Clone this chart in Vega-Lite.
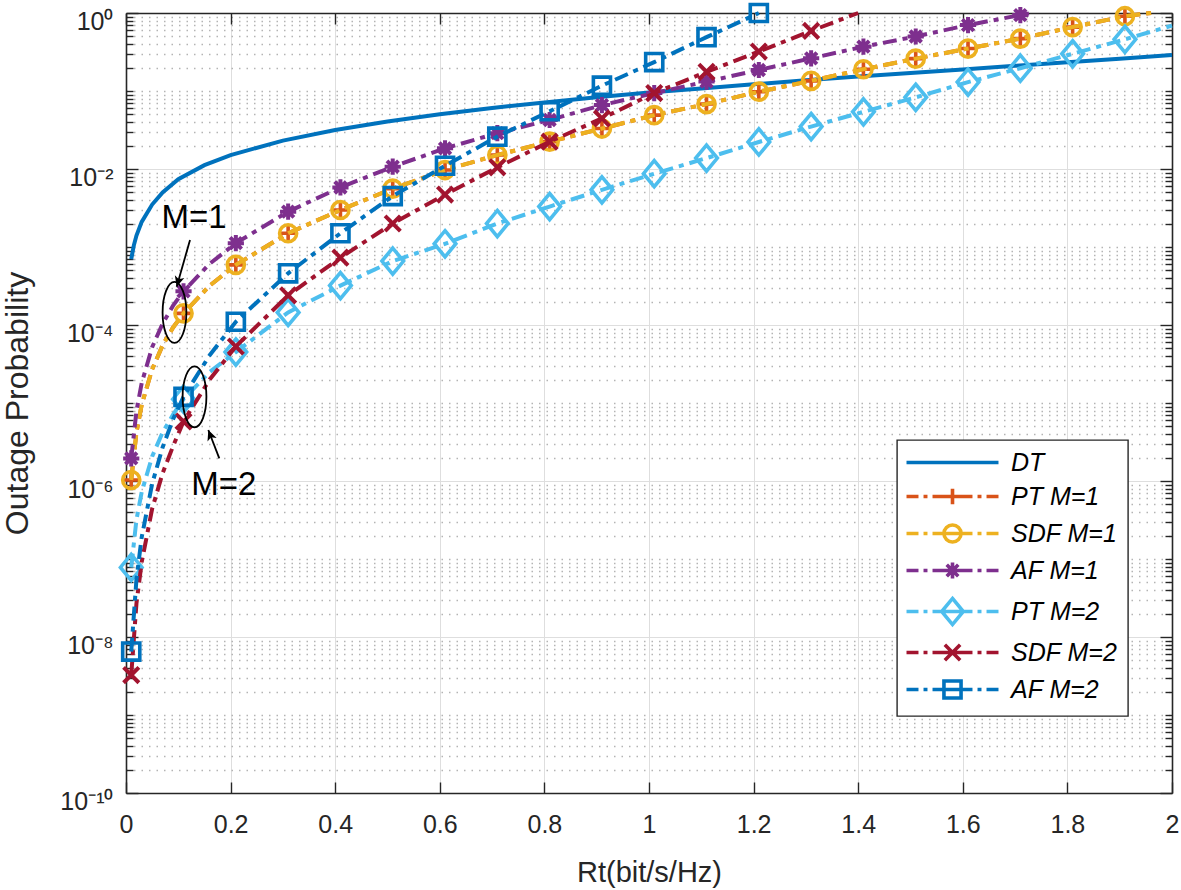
{
  "$schema": "https://vega.github.io/schema/vega-lite/v6.json",
  "width": 1046,
  "height": 780,
  "autosize": {"type": "none"},
  "padding": {"left": 126, "top": 13, "right": 9, "bottom": 97},
  "background": "white",
  "config": {
    "view": {"stroke": null},
    "font": "Liberation Sans",
    "axis": {"labelFont": "Liberation Sans", "titleFont": "Liberation Sans", "labelColor": "#262626", "titleColor": "#262626", "tickColor": "#262626", "domainColor": "#262626", "domainWidth": 1.6, "tickWidth": 1.4, "titleFontWeight": "normal"},
    "legend": {"strokeWidth": 1.4}
  },
  "datasets": {
    "curves": [
      {"series": "DT", "rt": 0.01, "p": 7.0e-4}, {"series": "DT", "rt": 0.015, "p": 1.05e-3}, {"series": "DT", "rt": 0.02, "p": 1.4e-3}, {"series": "DT", "rt": 0.03, "p": 2.1e-3}, {"series": "DT", "rt": 0.05, "p": 3.5e-3}, {"series": "DT", "rt": 0.07, "p": 5.0e-3}, {"series": "DT", "rt": 0.1, "p": 7.4e-3}, {"series": "DT", "rt": 0.15, "p": 0.0112}, {"series": "DT", "rt": 0.2, "p": 0.0151}, {"series": "DT", "rt": 0.3, "p": 0.0231}, {"series": "DT", "rt": 0.4, "p": 0.0316}, {"series": "DT", "rt": 0.5, "p": 0.0406}, {"series": "DT", "rt": 0.6, "p": 0.0503}, {"series": "DT", "rt": 0.7, "p": 0.0605}, {"series": "DT", "rt": 0.8, "p": 0.0714}, {"series": "DT", "rt": 0.9, "p": 0.083}, {"series": "DT", "rt": 1.0, "p": 0.0955}, {"series": "DT", "rt": 1.1, "p": 0.108}, {"series": "DT", "rt": 1.2, "p": 0.122}, {"series": "DT", "rt": 1.3, "p": 0.137}, {"series": "DT", "rt": 1.4, "p": 0.153}, {"series": "DT", "rt": 1.5, "p": 0.17}, {"series": "DT", "rt": 1.6, "p": 0.189}, {"series": "DT", "rt": 1.7, "p": 0.21}, {"series": "DT", "rt": 1.8, "p": 0.233}, {"series": "DT", "rt": 1.9, "p": 0.26}, {"series": "DT", "rt": 2.0, "p": 0.29},

      {"series": "PT M=1", "rt": 0.01, "p": 1.03e-6}, {"series": "PT M=1", "rt": 0.02, "p": 4.2e-6}, {"series": "PT M=1", "rt": 0.03, "p": 9.5e-6}, {"series": "PT M=1", "rt": 0.05, "p": 2.7e-5}, {"series": "PT M=1", "rt": 0.07, "p": 5.5e-5}, {"series": "PT M=1", "rt": 0.09, "p": 9.3e-5}, {"series": "PT M=1", "rt": 0.11, "p": 1.41e-4}, {"series": "PT M=1", "rt": 0.16, "p": 3.2e-4}, {"series": "PT M=1", "rt": 0.21, "p": 5.9e-4}, {"series": "PT M=1", "rt": 0.31, "p": 1.5e-3}, {"series": "PT M=1", "rt": 0.41, "p": 2.98e-3}, {"series": "PT M=1", "rt": 0.51, "p": 5.6e-3}, {"series": "PT M=1", "rt": 0.61, "p": 9.7e-3}, {"series": "PT M=1", "rt": 0.71, "p": 0.0151}, {"series": "PT M=1", "rt": 0.81, "p": 0.0224}, {"series": "PT M=1", "rt": 0.91, "p": 0.033}, {"series": "PT M=1", "rt": 1.01, "p": 0.049}, {"series": "PT M=1", "rt": 1.11, "p": 0.068}, {"series": "PT M=1", "rt": 1.21, "p": 0.098}, {"series": "PT M=1", "rt": 1.31, "p": 0.135}, {"series": "PT M=1", "rt": 1.41, "p": 0.19}, {"series": "PT M=1", "rt": 1.51, "p": 0.26}, {"series": "PT M=1", "rt": 1.61, "p": 0.35}, {"series": "PT M=1", "rt": 1.71, "p": 0.47}, {"series": "PT M=1", "rt": 1.81, "p": 0.66}, {"series": "PT M=1", "rt": 1.91, "p": 0.91}, {"series": "PT M=1", "rt": 1.96, "p": 1.0},

      {"series": "SDF M=1", "rt": 0.01, "p": 1.03e-6}, {"series": "SDF M=1", "rt": 0.02, "p": 4.2e-6}, {"series": "SDF M=1", "rt": 0.03, "p": 9.5e-6}, {"series": "SDF M=1", "rt": 0.05, "p": 2.7e-5}, {"series": "SDF M=1", "rt": 0.07, "p": 5.5e-5}, {"series": "SDF M=1", "rt": 0.09, "p": 9.3e-5}, {"series": "SDF M=1", "rt": 0.11, "p": 1.41e-4}, {"series": "SDF M=1", "rt": 0.16, "p": 3.2e-4}, {"series": "SDF M=1", "rt": 0.21, "p": 5.9e-4}, {"series": "SDF M=1", "rt": 0.31, "p": 1.5e-3}, {"series": "SDF M=1", "rt": 0.41, "p": 2.98e-3}, {"series": "SDF M=1", "rt": 0.51, "p": 5.6e-3}, {"series": "SDF M=1", "rt": 0.61, "p": 9.7e-3}, {"series": "SDF M=1", "rt": 0.71, "p": 0.0151}, {"series": "SDF M=1", "rt": 0.81, "p": 0.0224}, {"series": "SDF M=1", "rt": 0.91, "p": 0.033}, {"series": "SDF M=1", "rt": 1.01, "p": 0.049}, {"series": "SDF M=1", "rt": 1.11, "p": 0.068}, {"series": "SDF M=1", "rt": 1.21, "p": 0.098}, {"series": "SDF M=1", "rt": 1.31, "p": 0.135}, {"series": "SDF M=1", "rt": 1.41, "p": 0.19}, {"series": "SDF M=1", "rt": 1.51, "p": 0.26}, {"series": "SDF M=1", "rt": 1.61, "p": 0.35}, {"series": "SDF M=1", "rt": 1.71, "p": 0.47}, {"series": "SDF M=1", "rt": 1.81, "p": 0.66}, {"series": "SDF M=1", "rt": 1.91, "p": 0.91}, {"series": "SDF M=1", "rt": 1.96, "p": 1.0},

      {"series": "AF M=1", "rt": 0.01, "p": 1.95e-6}, {"series": "AF M=1", "rt": 0.02, "p": 7.9e-6}, {"series": "AF M=1", "rt": 0.03, "p": 1.8e-5}, {"series": "AF M=1", "rt": 0.05, "p": 5.2e-5}, {"series": "AF M=1", "rt": 0.07, "p": 1.04e-4}, {"series": "AF M=1", "rt": 0.09, "p": 1.77e-4}, {"series": "AF M=1", "rt": 0.11, "p": 2.7e-4}, {"series": "AF M=1", "rt": 0.16, "p": 6.1e-4}, {"series": "AF M=1", "rt": 0.21, "p": 1.12e-3}, {"series": "AF M=1", "rt": 0.31, "p": 2.84e-3}, {"series": "AF M=1", "rt": 0.41, "p": 5.8e-3}, {"series": "AF M=1", "rt": 0.51, "p": 0.0107}, {"series": "AF M=1", "rt": 0.61, "p": 0.0184}, {"series": "AF M=1", "rt": 0.71, "p": 0.0288}, {"series": "AF M=1", "rt": 0.81, "p": 0.0425}, {"series": "AF M=1", "rt": 0.91, "p": 0.066}, {"series": "AF M=1", "rt": 1.01, "p": 0.094}, {"series": "AF M=1", "rt": 1.11, "p": 0.132}, {"series": "AF M=1", "rt": 1.21, "p": 0.186}, {"series": "AF M=1", "rt": 1.31, "p": 0.262}, {"series": "AF M=1", "rt": 1.41, "p": 0.37}, {"series": "AF M=1", "rt": 1.51, "p": 0.5}, {"series": "AF M=1", "rt": 1.61, "p": 0.7}, {"series": "AF M=1", "rt": 1.71, "p": 0.94}, {"series": "AF M=1", "rt": 1.73, "p": 1.0},

      {"series": "PT M=2", "rt": 0.01, "p": 7.8e-8}, {"series": "PT M=2", "rt": 0.02, "p": 3.2e-7}, {"series": "PT M=2", "rt": 0.03, "p": 7.2e-7}, {"series": "PT M=2", "rt": 0.05, "p": 2.06e-6}, {"series": "PT M=2", "rt": 0.07, "p": 4.2e-6}, {"series": "PT M=2", "rt": 0.09, "p": 7.1e-6}, {"series": "PT M=2", "rt": 0.11, "p": 1.12e-5}, {"series": "PT M=2", "rt": 0.16, "p": 2.5e-5}, {"series": "PT M=2", "rt": 0.21, "p": 4.5e-5}, {"series": "PT M=2", "rt": 0.31, "p": 1.45e-4}, {"series": "PT M=2", "rt": 0.41, "p": 3.2e-4}, {"series": "PT M=2", "rt": 0.51, "p": 6.6e-4}, {"series": "PT M=2", "rt": 0.61, "p": 1.1e-3}, {"series": "PT M=2", "rt": 0.71, "p": 2.0e-3}, {"series": "PT M=2", "rt": 0.81, "p": 3.3e-3}, {"series": "PT M=2", "rt": 0.91, "p": 5.4e-3}, {"series": "PT M=2", "rt": 1.01, "p": 8.7e-3}, {"series": "PT M=2", "rt": 1.11, "p": 0.0138}, {"series": "PT M=2", "rt": 1.21, "p": 0.0222}, {"series": "PT M=2", "rt": 1.31, "p": 0.035}, {"series": "PT M=2", "rt": 1.41, "p": 0.054}, {"series": "PT M=2", "rt": 1.51, "p": 0.083}, {"series": "PT M=2", "rt": 1.61, "p": 0.13}, {"series": "PT M=2", "rt": 1.71, "p": 0.196}, {"series": "PT M=2", "rt": 1.81, "p": 0.3}, {"series": "PT M=2", "rt": 1.91, "p": 0.46}, {"series": "PT M=2", "rt": 2.0, "p": 0.69},

      {"series": "SDF M=2", "rt": 0.01, "p": 3.25e-9}, {"series": "SDF M=2", "rt": 0.02, "p": 2.7e-8}, {"series": "SDF M=2", "rt": 0.03, "p": 9.1e-8}, {"series": "SDF M=2", "rt": 0.05, "p": 4.4e-7}, {"series": "SDF M=2", "rt": 0.07, "p": 1.26e-6}, {"series": "SDF M=2", "rt": 0.09, "p": 2.8e-6}, {"series": "SDF M=2", "rt": 0.11, "p": 5.8e-6}, {"series": "SDF M=2", "rt": 0.16, "p": 2.0e-5}, {"series": "SDF M=2", "rt": 0.21, "p": 5.3e-5}, {"series": "SDF M=2", "rt": 0.31, "p": 2.4e-4}, {"series": "SDF M=2", "rt": 0.41, "p": 7.3e-4}, {"series": "SDF M=2", "rt": 0.51, "p": 2.0e-3}, {"series": "SDF M=2", "rt": 0.61, "p": 4.7e-3}, {"series": "SDF M=2", "rt": 0.71, "p": 0.0105}, {"series": "SDF M=2", "rt": 0.81, "p": 0.0224}, {"series": "SDF M=2", "rt": 0.91, "p": 0.0445}, {"series": "SDF M=2", "rt": 1.01, "p": 0.094}, {"series": "SDF M=2", "rt": 1.11, "p": 0.176}, {"series": "SDF M=2", "rt": 1.21, "p": 0.32}, {"series": "SDF M=2", "rt": 1.31, "p": 0.59}, {"series": "SDF M=2", "rt": 1.4, "p": 1.0},

      {"series": "AF M=2", "rt": 0.01, "p": 6.5e-9}, {"series": "AF M=2", "rt": 0.02, "p": 5.5e-8}, {"series": "AF M=2", "rt": 0.03, "p": 1.9e-7}, {"series": "AF M=2", "rt": 0.05, "p": 9.2e-7}, {"series": "AF M=2", "rt": 0.07, "p": 2.7e-6}, {"series": "AF M=2", "rt": 0.09, "p": 6.2e-6}, {"series": "AF M=2", "rt": 0.11, "p": 1.2e-5}, {"series": "AF M=2", "rt": 0.16, "p": 4.1e-5}, {"series": "AF M=2", "rt": 0.21, "p": 1.1e-4}, {"series": "AF M=2", "rt": 0.31, "p": 4.6e-4}, {"series": "AF M=2", "rt": 0.41, "p": 1.5e-3}, {"series": "AF M=2", "rt": 0.51, "p": 4.5e-3}, {"series": "AF M=2", "rt": 0.61, "p": 0.011}, {"series": "AF M=2", "rt": 0.71, "p": 0.026}, {"series": "AF M=2", "rt": 0.81, "p": 0.055}, {"series": "AF M=2", "rt": 0.91, "p": 0.117}, {"series": "AF M=2", "rt": 1.01, "p": 0.235}, {"series": "AF M=2", "rt": 1.11, "p": 0.49}, {"series": "AF M=2", "rt": 1.21, "p": 1.0}
    ],
    "notes": [
      {"kind": "ellipse", "label": "M=1", "rt": 0.0927, "p": 1.45e-4},
      {"kind": "ellipse", "label": "M=2", "rt": 0.131, "p": 1.2e-5},
      {"kind": "text", "label": "M=1", "rt": 0.13, "p": 2.35e-3},
      {"kind": "text", "label": "M=2", "rt": 0.187, "p": 8.9e-7},
      {"kind": "arrow", "label": "M=1", "rt": 0.0969, "p": 3.1e-4, "rt2": 0.1224, "p2": 1.23e-3},
      {"kind": "arrow", "label": "M=2", "rt": 0.1574, "p": 4.5e-6, "rt2": 0.1784, "p2": 1.95e-6}
    ]
  },
  "layer": [
    {
      "data": {"name": "curves"},
      "encoding": {
        "x": {"field": "rt", "type": "quantitative", "scale": {"domain": [0, 2], "nice": false, "zero": false},
          "axis": {"orient": "bottom", "values": [0, 0.2, 0.4, 0.6, 0.8, 1, 1.2, 1.4, 1.6, 1.8, 2], "format": "~g", "labelFontSize": 25, "labelPadding": 30, "labelFlush": false, "labelOverlap": false, "tickSize": -11, "grid": true, "gridColor": "#dedede", "gridWidth": 1, "title": "Rt(bit/s/Hz)", "titleFontSize": 29, "titlePadding": 21}},
        "y": {"field": "p", "type": "quantitative", "scale": {"type": "log", "domain": [1e-10, 1], "nice": false},
          "axis": {"orient": "left",
            "values": [1e-10,2e-10,3e-10,4e-10,5e-10,6e-10,7e-10,8e-10,9e-10,1e-9,2e-9,3e-9,4e-9,5e-9,6e-9,7e-9,8e-9,9e-9,1e-8,2e-8,3e-8,4e-8,5e-8,6e-8,7e-8,8e-8,9e-8,1e-7,2e-7,3e-7,4e-7,5e-7,6e-7,7e-7,8e-7,9e-7,1e-6,2e-6,3e-6,4e-6,5e-6,6e-6,7e-6,8e-6,9e-6,1e-5,2e-5,3e-5,4e-5,5e-5,6e-5,7e-5,8e-5,9e-5,1e-4,2e-4,3e-4,4e-4,5e-4,6e-4,7e-4,8e-4,9e-4,1e-3,2e-3,3e-3,4e-3,5e-3,6e-3,7e-3,8e-3,9e-3,0.01,0.02,0.03,0.04,0.05,0.06,0.07,0.08,0.09,0.1,0.2,0.3,0.4,0.5,0.6,0.7,0.8,0.9,1],
            "labelExpr": "(abs(log(datum.value)/LN10 - round(log(datum.value)/LN10)) > 0.000001) ? '' : round(log(datum.value)/LN10) == 0 ? '10⁰' : round(log(datum.value)/LN10) == -2 ? '10⁻²' : round(log(datum.value)/LN10) == -4 ? '10⁻⁴' : round(log(datum.value)/LN10) == -6 ? '10⁻⁶' : round(log(datum.value)/LN10) == -8 ? '10⁻⁸' : round(log(datum.value)/LN10) == -10 ? '10⁻¹⁰' : ''",
            "labelFontSize": 25, "labelPadding": 25, "labelOverlap": false, "labelFlush": false, "labelBaseline": "middle", "labelOffset": 8,
            "tickSize": {"condition": {"test": "abs(log(datum.value)/LN10 - round(log(datum.value)/LN10)) < 0.000001 && round(log(datum.value)/LN10) % 2 == 0", "value": -12}, "value": -7},
            "grid": true,
            "gridColor": {"condition": {"test": "abs(log(datum.value)/LN10 - round(log(datum.value)/LN10)) < 0.000001 && round(log(datum.value)/LN10) % 2 == 0", "value": "#dedede"}, "value": "#b4b4b4"},
            "gridDash": {"condition": {"test": "abs(log(datum.value)/LN10 - round(log(datum.value)/LN10)) < 0.000001 && round(log(datum.value)/LN10) % 2 == 0", "value": []}, "value": [1.5, 6]},
            "gridWidth": {"condition": {"test": "abs(log(datum.value)/LN10 - round(log(datum.value)/LN10)) < 0.000001 && round(log(datum.value)/LN10) % 2 == 0", "value": 1}, "value": 1.4},
            "title": "Outage Probability", "titleFontSize": 32, "titlePadding": 25}},
        "color": {"field": "series", "type": "nominal", "scale": {"domain": ["DT", "PT M=1", "SDF M=1", "AF M=1", "PT M=2", "SDF M=2", "AF M=2"], "range": ["#0072BD", "#D95319", "#EDB120", "#7E2F8E", "#4DBEEE", "#A2142F", "#0072BD"]}}
      },
      "layer": [
        {
          "mark": {"type": "point", "size": 0, "filled": false, "strokeWidth": 3.6, "opacity": 1},
          "encoding": {
            "color": {"field": "series", "type": "nominal", "scale": {"domain": ["DT", "PT M=1", "SDF M=1", "AF M=1", "PT M=2", "SDF M=2", "AF M=2"], "range": ["#0072BD", "#D95319", "#EDB120", "#7E2F8E", "#4DBEEE", "#A2142F", "#0072BD"]},
              "legend": {"title": null, "orient": "none", "legendX": 771, "legendY": 427, "direction": "vertical", "symbolSize": 324, "symbolStrokeWidth": 3.6, "symbolOffset": 33, "labelOffset": 46, "labelFont": "Liberation Sans", "labelFontSize": 25, "labelFontStyle": "italic", "labelColor": "#000000", "labelLimit": 0, "rowPadding": 5, "padding": 10, "strokeColor": "#262626", "fillColor": "#ffffff", "symbolFillColor": "transparent"}},
            "shape": {"field": "series", "type": "nominal",
              "scale": {"domain": ["DT", "PT M=1", "SDF M=1", "AF M=1", "PT M=2", "SDF M=2", "AF M=2"],
                "range": [
                  "M-5.11,0H5.11",
                  "M-5.11,0H-3.78M-3.22,0H-2.78M-2.22,0H2.22M2.78,0H3.22M3.78,0H5.11M-0.85,0H0.85M0,-0.85V0.85",
                  "M-5.11,0H-3.78M-3.22,0H-2.78M-2.22,0H2.22M2.78,0H3.22M3.78,0H5.11M0.95,0A0.95,0.95 0 1,1 -0.95,0A0.95,0.95 0 1,1 0.95,0Z",
                  "M-5.11,0H-3.78M-3.22,0H-2.78M-2.22,0H2.22M2.78,0H3.22M3.78,0H5.11M-0.9,0H0.9M0,-0.9V0.9M-0.64,-0.64L0.64,0.64M-0.64,0.64L0.64,-0.64",
                  "M-5.11,0H-3.78M-3.22,0H-2.78M-2.22,0H2.22M2.78,0H3.22M3.78,0H5.11M0,-1.45L1.2,0L0,1.45L-1.2,0Z",
                  "M-5.11,0H-3.78M-3.22,0H-2.78M-2.22,0H2.22M2.78,0H3.22M3.78,0H5.11M-0.85,-0.85L0.85,0.85M-0.85,0.85L0.85,-0.85",
                  "M-5.11,0H-3.78M-3.22,0H-2.78M-2.22,0H2.22M2.78,0H3.22M3.78,0H5.11M-0.95,-0.95H0.95V0.95H-0.95Z"
                ]},
              "legend": {"title": null, "orient": "none", "legendX": 771, "legendY": 427, "direction": "vertical", "symbolSize": 324, "symbolStrokeWidth": 3.6, "symbolOffset": 33, "labelOffset": 46, "labelFont": "Liberation Sans", "labelFontSize": 25, "labelFontStyle": "italic", "labelColor": "#000000", "labelLimit": 0, "rowPadding": 5, "padding": 10, "strokeColor": "#262626", "fillColor": "#ffffff", "symbolFillColor": "transparent"}}
          }
        },
        {"transform": [{"filter": "datum.series === 'DT'"}], "mark": {"type": "line", "strokeWidth": 4}},
        {"transform": [{"filter": "datum.series === 'PT M=1'"}], "mark": {"type": "line", "strokeWidth": 4, "strokeDash": [14, 6, 5, 6]}},
        {"transform": [{"filter": "datum.series === 'PT M=1' && round(datum.rt*100) % 10 === 1"}], "mark": {"type": "point", "shape": "M-0.85,0H0.85M0,-0.85V0.85", "filled": false, "size": 324, "strokeWidth": 3.6, "opacity": 1}},
        {"transform": [{"filter": "datum.series === 'SDF M=1'"}], "mark": {"type": "line", "strokeWidth": 4, "strokeDash": [14, 6, 5, 6]}},
        {"transform": [{"filter": "datum.series === 'SDF M=1' && round(datum.rt*100) % 10 === 1"}], "mark": {"type": "point", "shape": "M0.95,0A0.95,0.95 0 1,1 -0.95,0A0.95,0.95 0 1,1 0.95,0Z", "filled": false, "size": 324, "strokeWidth": 3.6, "opacity": 1}},
        {"transform": [{"filter": "datum.series === 'AF M=1'"}], "mark": {"type": "line", "strokeWidth": 4, "strokeDash": [14, 6, 5, 6]}},
        {"transform": [{"filter": "datum.series === 'AF M=1' && round(datum.rt*100) % 10 === 1"}], "mark": {"type": "point", "shape": "M-0.9,0H0.9M0,-0.9V0.9M-0.64,-0.64L0.64,0.64M-0.64,0.64L0.64,-0.64", "filled": false, "size": 324, "strokeWidth": 4, "opacity": 1}},
        {"transform": [{"filter": "datum.series === 'PT M=2'"}], "mark": {"type": "line", "strokeWidth": 4, "strokeDash": [14, 6, 5, 6]}},
        {"transform": [{"filter": "datum.series === 'PT M=2' && round(datum.rt*100) % 10 === 1"}], "mark": {"type": "point", "shape": "M0,-1.45L1.2,0L0,1.45L-1.2,0Z", "filled": false, "size": 324, "strokeWidth": 3.6, "opacity": 1}},
        {"transform": [{"filter": "datum.series === 'SDF M=2'"}], "mark": {"type": "line", "strokeWidth": 4, "strokeDash": [14, 6, 5, 6]}},
        {"transform": [{"filter": "datum.series === 'SDF M=2' && round(datum.rt*100) % 10 === 1"}], "mark": {"type": "point", "shape": "M-0.85,-0.85L0.85,0.85M-0.85,0.85L0.85,-0.85", "filled": false, "size": 324, "strokeWidth": 4, "opacity": 1}},
        {"transform": [{"filter": "datum.series === 'AF M=2'"}], "mark": {"type": "line", "strokeWidth": 4, "strokeDash": [14, 6, 5, 6]}},
        {"transform": [{"filter": "datum.series === 'AF M=2' && round(datum.rt*100) % 10 === 1"}], "mark": {"type": "point", "shape": "M-0.95,-0.95H0.95V0.95H-0.95Z", "filled": false, "size": 324, "strokeWidth": 3.6, "opacity": 1}}
      ]
    },
    {
      "data": {"name": "notes"},
      "encoding": {
        "x": {"field": "rt", "type": "quantitative", "scale": {"domain": [0, 2], "nice": false, "zero": false},
          "axis": {"orient": "top", "values": [0, 0.2, 0.4, 0.6, 0.8, 1, 1.2, 1.4, 1.6, 1.8, 2], "labels": false, "title": null, "grid": false, "tickSize": -11, "domain": true}},
        "y": {"field": "p", "type": "quantitative", "scale": {"type": "log", "domain": [1e-10, 1], "nice": false},
          "axis": {"orient": "right", "labels": false, "title": null, "grid": false, "domain": true,
            "values": [1e-10,2e-10,3e-10,4e-10,5e-10,6e-10,7e-10,8e-10,9e-10,1e-9,2e-9,3e-9,4e-9,5e-9,6e-9,7e-9,8e-9,9e-9,1e-8,2e-8,3e-8,4e-8,5e-8,6e-8,7e-8,8e-8,9e-8,1e-7,2e-7,3e-7,4e-7,5e-7,6e-7,7e-7,8e-7,9e-7,1e-6,2e-6,3e-6,4e-6,5e-6,6e-6,7e-6,8e-6,9e-6,1e-5,2e-5,3e-5,4e-5,5e-5,6e-5,7e-5,8e-5,9e-5,1e-4,2e-4,3e-4,4e-4,5e-4,6e-4,7e-4,8e-4,9e-4,1e-3,2e-3,3e-3,4e-3,5e-3,6e-3,7e-3,8e-3,9e-3,0.01,0.02,0.03,0.04,0.05,0.06,0.07,0.08,0.09,0.1,0.2,0.3,0.4,0.5,0.6,0.7,0.8,0.9,1],
            "tickSize": {"condition": {"test": "abs(log(datum.value)/LN10 - round(log(datum.value)/LN10)) < 0.000001 && round(log(datum.value)/LN10) % 2 == 0", "value": -12}, "value": -7}}}
      },
      "layer": [
        {"transform": [{"filter": "datum.kind === 'ellipse'"}], "mark": {"type": "point", "shape": "M0,-1A0.39,1 0 1,1 0,1A0.39,1 0 1,1 0,-1Z", "filled": false, "size": 3721, "strokeWidth": 1.8, "color": "#000000", "opacity": 1}},
        {"transform": [{"filter": "datum.kind === 'arrow'"}], "mark": {"type": "rule", "strokeWidth": 1.8, "color": "#000000"}, "encoding": {"x2": {"field": "rt2"}, "y2": {"field": "p2"}}},
        {"transform": [{"filter": "datum.kind === 'arrow' && datum.label === 'M=1'"}], "mark": {"type": "point", "shape": "M0,0L0.7,1.5L0,1.1L-0.7,1.5Z", "filled": true, "size": 196, "angle": 196, "color": "#000000", "opacity": 1}},
        {"transform": [{"filter": "datum.kind === 'arrow' && datum.label === 'M=2'"}], "mark": {"type": "point", "shape": "M0,0L0.7,1.5L0,1.1L-0.7,1.5Z", "filled": true, "size": 196, "angle": 339, "color": "#000000", "opacity": 1}},
        {"transform": [{"filter": "datum.kind === 'text'"}], "mark": {"type": "text", "font": "Liberation Sans", "fontSize": 33, "color": "#000000", "align": "center", "baseline": "middle"}, "encoding": {"text": {"field": "label"}}}
      ]
    }
  ],
  "resolve": {"axis": {"x": "independent", "y": "independent"}}
}
